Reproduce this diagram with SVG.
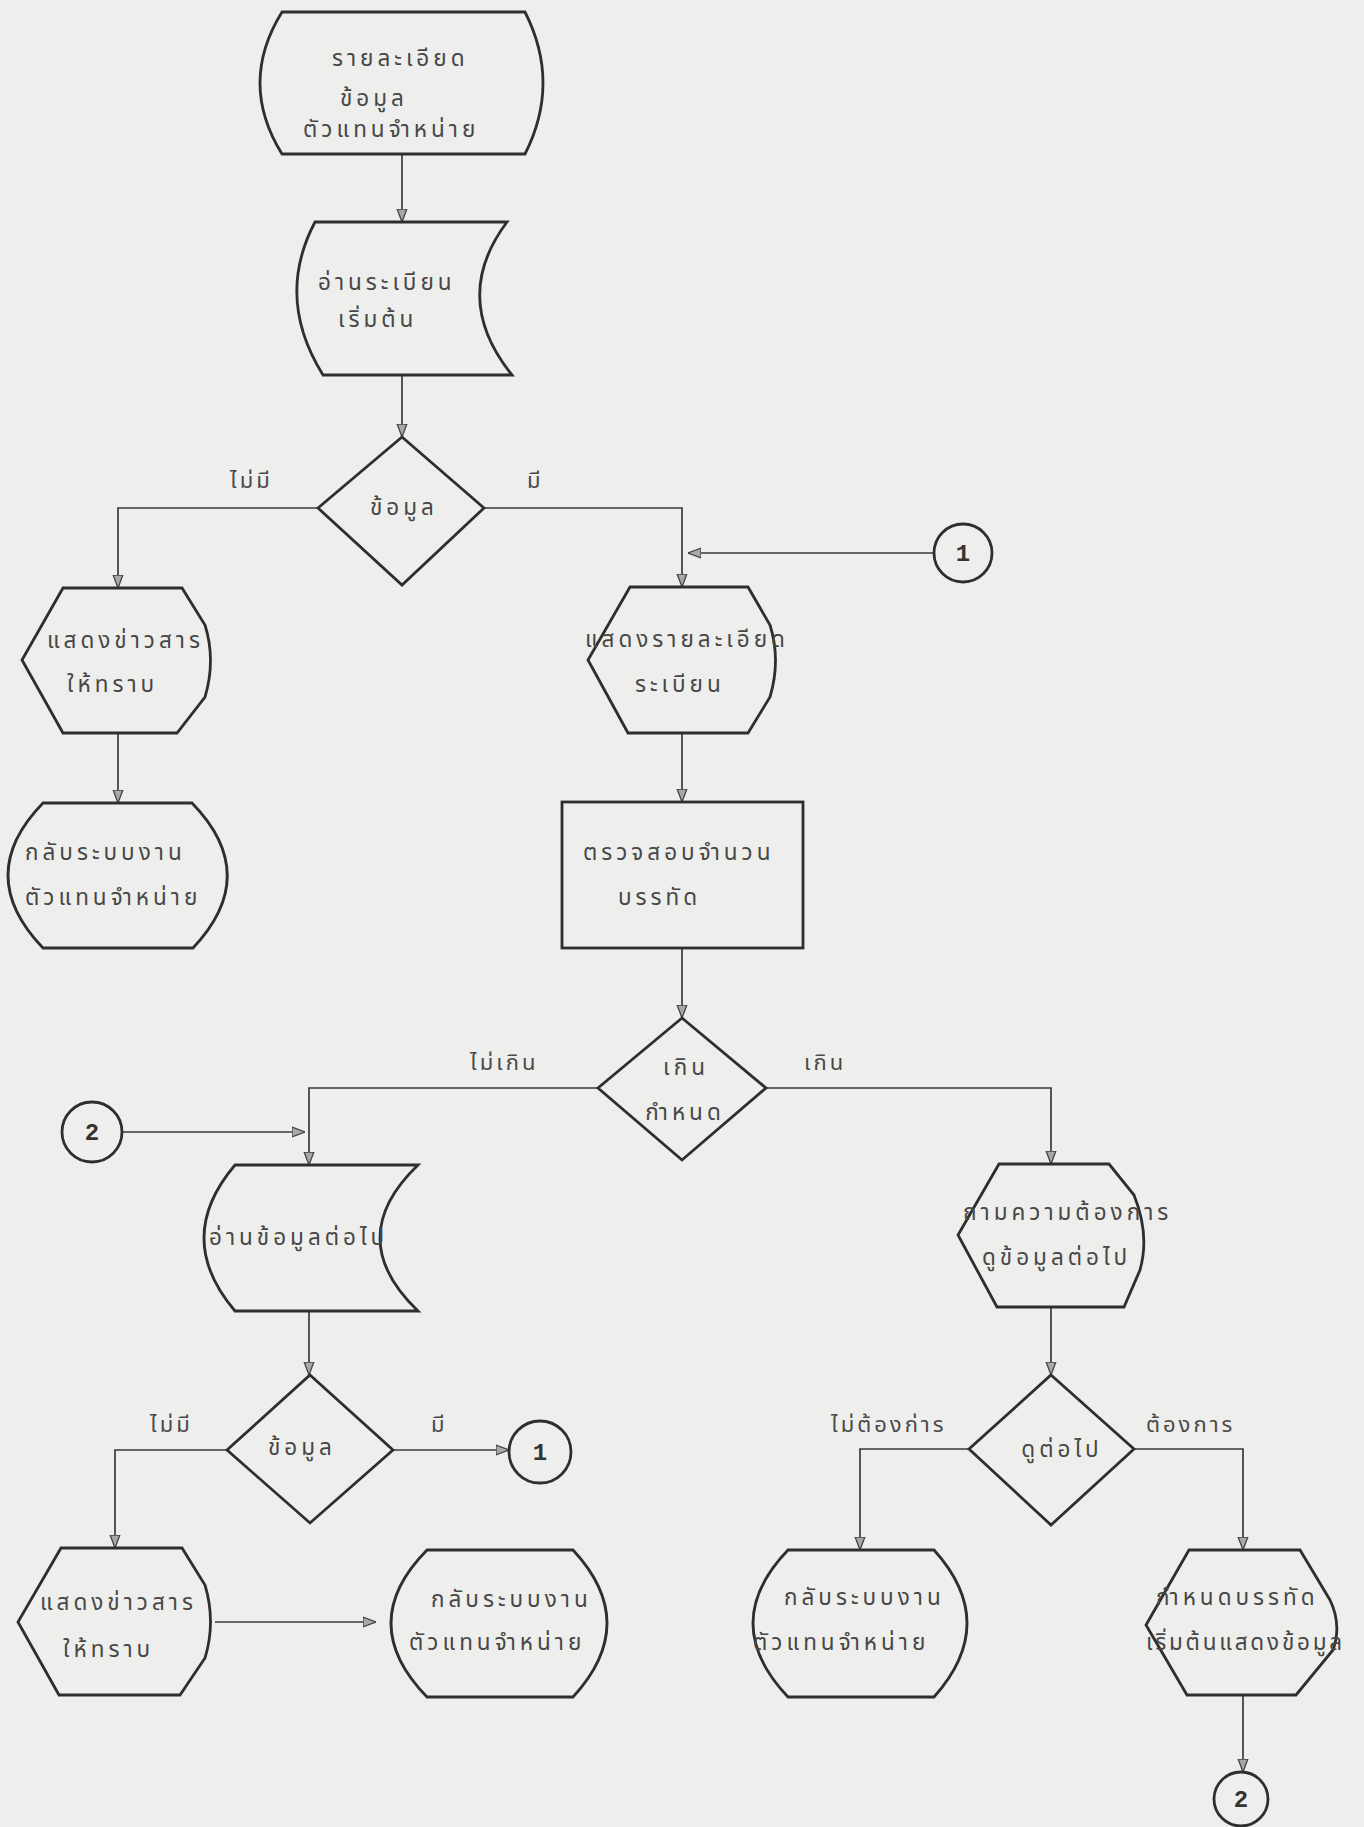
<svg xmlns="http://www.w3.org/2000/svg" width="1364" height="1827" viewBox="0 0 1364 1827">
<defs>
<style>
.bg{fill:#eeeeec}
.sh{fill:none;stroke:#2e2e2e;stroke-width:2.8;stroke-linejoin:miter}
.cn{fill:none;stroke:#3a3a3a;stroke-width:1.7}
.t{font-family:"Noto Sans Thai","Noto Sans Thai Looped","Noto Sans","DejaVu Sans",sans-serif;font-size:22.5px;fill:#474747;letter-spacing:4px}
.lb{font-family:"Noto Sans Thai","Noto Sans Thai Looped","Noto Sans","DejaVu Sans",sans-serif;font-size:22px;fill:#4a4a4a;letter-spacing:3px}
.num{font-family:"Liberation Mono",monospace;font-size:24px;font-weight:bold;fill:#333;text-anchor:middle}
</style>
<marker id="arr" viewBox="0 0 12 12" refX="12" refY="6" markerWidth="13" markerHeight="13" markerUnits="userSpaceOnUse" orient="auto">
<path d="M0,1.5 L12,6 L0,10.5 Z" fill="#a8a8a8" stroke="#444" stroke-width="1.2"/>
</marker>
</defs>
<rect class="bg" x="0" y="0" width="1364" height="1827"/>

<g id="connectors">
<path class="cn" d="M402,154 L402,222" marker-end="url(#arr)"/>
<path class="cn" d="M402,375 L402,437" marker-end="url(#arr)"/>
<path class="cn" d="M318,508 L118,508 L118,588" marker-end="url(#arr)"/>
<path class="cn" d="M484,508 L682,508 L682,587" marker-end="url(#arr)"/>
<path class="cn" d="M934,553 L688,553" marker-end="url(#arr)"/>
<path class="cn" d="M118,733 L118,803" marker-end="url(#arr)"/>
<path class="cn" d="M682,733 L682,802" marker-end="url(#arr)"/>
<path class="cn" d="M682,948 L682,1018" marker-end="url(#arr)"/>
<path class="cn" d="M598,1088 L309,1088 L309,1165" marker-end="url(#arr)"/>
<path class="cn" d="M122,1132 L305,1132" marker-end="url(#arr)"/>
<path class="cn" d="M766,1088 L1051,1088 L1051,1164" marker-end="url(#arr)"/>
<path class="cn" d="M309,1311 L309,1375" marker-end="url(#arr)"/>
<path class="cn" d="M393,1450 L509,1450" marker-end="url(#arr)"/>
<path class="cn" d="M227,1450 L115,1450 L115,1548" marker-end="url(#arr)"/>
<path class="cn" d="M215,1622 L376,1622" marker-end="url(#arr)"/>
<path class="cn" d="M1051,1307 L1051,1375" marker-end="url(#arr)"/>
<path class="cn" d="M969,1449 L860,1449 L860,1550" marker-end="url(#arr)"/>
<path class="cn" d="M1134,1449 L1243,1449 L1243,1550" marker-end="url(#arr)"/>
<path class="cn" d="M1243,1695 L1243,1772" marker-end="url(#arr)"/>
<text class="lb" x="230" y="488">ไม่มี</text>
<text class="lb" x="527" y="488">มี</text>
<text class="lb" x="470" y="1070">ไม่เกิน</text>
<text class="lb" x="804" y="1070">เกิน</text>
<text class="lb" x="150" y="1432">ไม่มี</text>
<text class="lb" x="431" y="1432">มี</text>
<text class="lb" x="831" y="1432">ไม่ต้องก่าร</text>
<text class="lb" x="1146" y="1432">ต้องการ</text>
</g>

<g id="n_start">
<path class="sh" d="M282,12 L525,12 Q561,83 525,154 L282,154 Q238,83 282,12 Z"/>
<text class="t" x="332" y="66">รายละเอียด</text>
<text class="t" x="340" y="106">ข้อมูล</text>
<text class="t" x="303" y="137">ตัวแทนจำหน่าย</text>
</g>

<g id="n_read1">
<path class="sh" d="M315,222 L507,222 Q450,298 512,375 L323,375 Q275,298 315,222 Z"/>
<text class="t" x="318" y="290">อ่านระเบียน</text>
<text class="t" x="338" y="327">เริ่มต้น</text>
</g>

<g id="n_dec1">
<path class="sh" d="M402,437 L484,508 L402,585 L318,508 Z"/>
<text class="t" x="404" y="515" text-anchor="middle">ข้อมูล</text>
</g>

<g id="n_msg1">
<path class="sh" d="M63,588 L182,588 L205,625 Q216,660 205,697 L177,733 L63,733 L22,660 Z"/>
<text class="t" x="47" y="648">แสดงข่าวสาร</text>
<text class="t" x="67" y="692">ให้ทราบ</text>
</g>

<g id="n_end1">
<path class="sh" d="M43,803 L192,803 Q262,875 193,948 L43,948 Q-27,875 43,803 Z"/>
<text class="t" x="25" y="860">กลับระบบงาน</text>
<text class="t" x="25" y="905">ตัวแทนจำหน่าย</text>
</g>

<g id="n_show">
<path class="sh" d="M630,587 L748,587 L770,625 Q781,660 770,697 L748,733 L628,733 L588,660 Z"/>
<text class="t" x="585" y="647">แสดงรายละเอียด</text>
<text class="t" x="635" y="692">ระเบียน</text>
</g>

<g id="n_c1a">
<circle class="sh" cx="963" cy="553" r="29"/>
<text class="num" x="963" y="561">1</text>
</g>

<g id="n_check">
<rect class="sh" x="562" y="802" width="241" height="146"/>
<text class="t" x="583" y="860">ตรวจสอบจำนวน</text>
<text class="t" x="618" y="905">บรรทัด</text>
</g>

<g id="n_dec2">
<path class="sh" d="M682,1018 L766,1088 L682,1160 L598,1088 Z"/>
<text class="t" x="686" y="1075" text-anchor="middle">เกิน</text>
<text class="t" x="685" y="1120" text-anchor="middle">กำหนด</text>
</g>

<g id="n_c2a">
<circle class="sh" cx="92" cy="1132" r="30"/>
<text class="num" x="92" y="1140">2</text>
</g>

<g id="n_read2">
<path class="sh" d="M235,1165 L418,1165 Q342,1238 418,1311 L235,1311 Q173,1238 235,1165 Z"/>
<text class="t" x="209" y="1245">อ่านข้อมูลต่อไป</text>
</g>

<g id="n_dec3">
<path class="sh" d="M310,1375 L393,1450 L310,1523 L227,1450 Z"/>
<text class="t" x="302" y="1455" text-anchor="middle">ข้อมูล</text>
</g>

<g id="n_c1b">
<circle class="sh" cx="540" cy="1452" r="31"/>
<text class="num" x="540" y="1460">1</text>
</g>

<g id="n_msg2">
<path class="sh" d="M61,1548 L182,1548 L205,1585 Q216,1622 205,1658 L180,1695 L59,1695 L18,1622 Z"/>
<text class="t" x="40" y="1610">แสดงข่าวสาร</text>
<text class="t" x="63" y="1657">ให้ทราบ</text>
</g>

<g id="n_end2">
<path class="sh" d="M427,1550 L573,1550 Q641,1623 573,1697 L427,1697 Q355,1623 427,1550 Z"/>
<text class="t" x="431" y="1607">กลับระบบงาน</text>
<text class="t" x="409" y="1650">ตัวแทนจำหน่าย</text>
</g>

<g id="n_ask">
<path class="sh" d="M999,1164 L1109,1164 L1134,1195 Q1150,1235 1140,1270 L1124,1307 L997,1307 L958,1235 Z"/>
<text class="t" x="963" y="1220">ถามความต้องการ</text>
<text class="t" x="982" y="1265">ดูข้อมูลต่อไป</text>
</g>

<g id="n_dec4">
<path class="sh" d="M1051,1375 L1134,1449 L1051,1525 L969,1449 Z"/>
<text class="t" x="1062" y="1457" text-anchor="middle">ดูต่อไป</text>
</g>

<g id="n_end3">
<path class="sh" d="M788,1550 L934,1550 Q1000,1623 934,1697 L788,1697 Q718,1623 788,1550 Z"/>
<text class="t" x="784" y="1605">กลับระบบงาน</text>
<text class="t" x="753" y="1650">ตัวแทนจำหน่าย</text>
</g>

<g id="n_setline">
<path class="sh" d="M1189,1550 L1300,1550 L1330,1600 Q1342,1625 1333,1650 L1296,1695 L1187,1695 L1146,1625 Z"/>
<text class="t" x="1156" y="1605">กำหนดบรรทัด</text>
<text class="t" x="1146" y="1650" style="letter-spacing:2.8px">เริ่มต้นแสดงข้อมูล</text>
</g>

<g id="n_c2b">
<circle class="sh" cx="1241" cy="1799" r="27"/>
<text class="num" x="1241" y="1807">2</text>
</g>
</svg>
